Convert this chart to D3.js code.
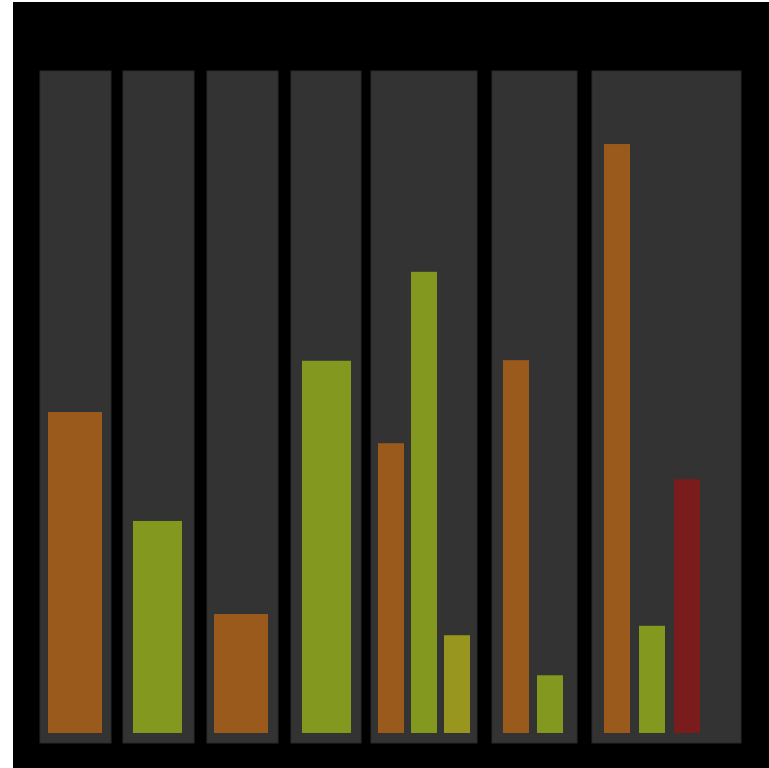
<!DOCTYPE html>
<html>
<head>
<meta charset="utf-8">
<script src="https://cdn.jsdelivr.net/npm/d3@7"></script>
<style>
  html, body { margin: 0; padding: 0; background: #ffffff; }
  svg { display: block; }
</style>
</head>
<body>
<script>
// Facet groups and the bars inside each one
const groups = ["g1", "g2", "g3", "g4", "g5", "g6", "g7"];
const barGroup = ["g1", "g2", "g3", "g4", "g5", "g5", "g5", "g6", "g6", "g7", "g7", "g7"];
const barSeries = ["s1", "s2", "s1", "s2", "s1", "s2", "s3", "s1", "s2", "s1", "s2", "s4"];
const barValues = [54.5, 36.0, 20.2, 63.2, 49.2, 78.3, 16.6, 63.3, 9.8, 100, 18.2, 43.1];

// Series palette
const seriesKeys = ["s1", "s2", "s3", "s4"];
const seriesColors = ["#9a5a1c", "#82981e", "#98961e", "#7a1b1c"];

// Panel geometry: panel box [x0, x1], bar band range [b0, b1], inner padding
const panelLayout = {
  g1: { box: [40, 111], band: [48, 102], pad: 0 },
  g2: { box: [123, 194], band: [133, 182], pad: 0 },
  g3: { box: [207, 278], band: [214, 268], pad: 0 },
  g4: { box: [291, 361], band: [302, 351], pad: 0 },
  g5: { box: [371, 477], band: [378, 470], pad: 0.212 },
  g6: { box: [492, 577], band: [503, 563], pad: 0.235 },
  g7: { box: [592, 741], band: [604, 700], pad: 0.257 }
};

const W = 769, H = 768;
const svg = d3.select("body").append("svg").attr("width", W).attr("height", H);

// Plot background
svg.append("rect").attr("x", 13).attr("y", 2).attr("width", W - 13).attr("height", H - 2).attr("fill", "#000000");

// Shared value axis (padded below zero)
const yDomain = [-1.7, 112.4];
const y = d3.scaleLinear().domain(yDomain).range([743, 71]);
const color = d3.scaleOrdinal().domain(seriesKeys).range(seriesColors);

const bars = barValues.map((v, i) => ({ group: barGroup[i], series: barSeries[i], value: v }));

groups.forEach(g => {
  const L = panelLayout[g];
  const items = bars.filter(d => d.group === g);
  const x = d3.scaleBand()
    .domain(items.map(d => d.series))
    .range(L.band)
    .paddingInner(L.pad)
    .paddingOuter(0);

  const panel = svg.append("g").attr("class", "panel");
  panel.append("rect")
    .attr("x", L.box[0]).attr("y", y(yDomain[1]))
    .attr("width", L.box[1] - L.box[0])
    .attr("height", y(yDomain[0]) - y(yDomain[1]))
    .attr("fill", "#333333")
    .attr("stroke", "#2a2a2a")
    .attr("stroke-width", 1);

  panel.selectAll("rect.bar").data(items).join("rect")
    .attr("class", "bar")
    .attr("x", d => x(d.series))
    .attr("width", x.bandwidth())
    .attr("y", d => y(d.value))
    .attr("height", d => y(0) - y(d.value))
    .attr("fill", d => color(d.series));
});
</script>
</body>
</html>
